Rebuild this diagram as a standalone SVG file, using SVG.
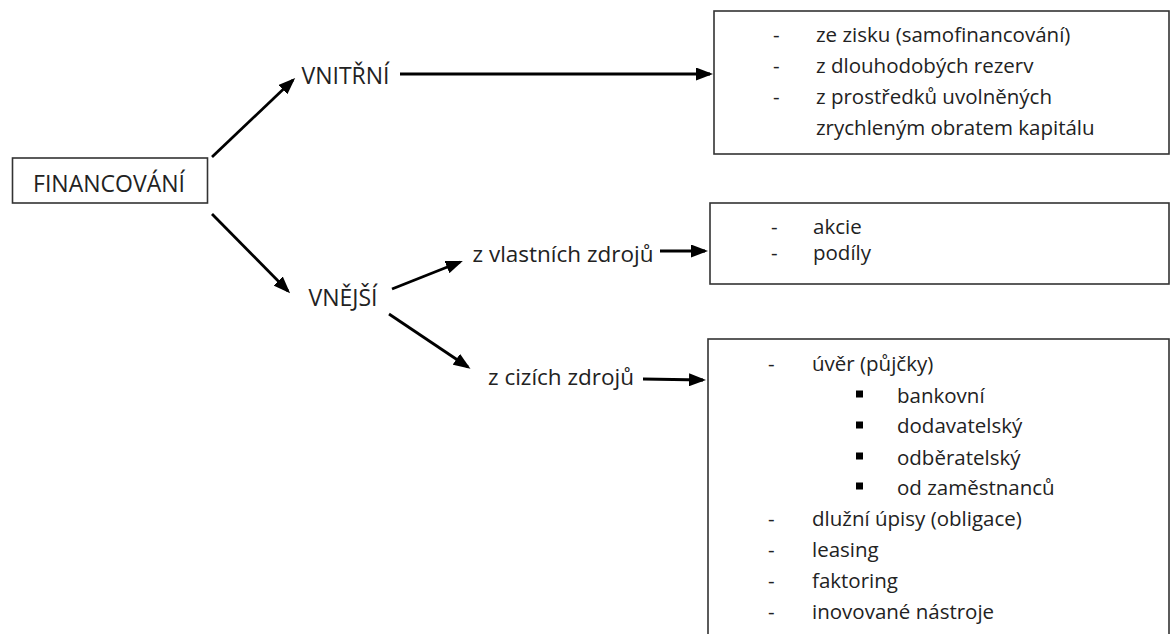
<svg xmlns="http://www.w3.org/2000/svg" width="1170" height="634" viewBox="0 0 1170 634">
<style>
text{font-family:"Open Sans","Liberation Sans",sans-serif;font-size:20.5px;fill:#222}
.lbl{font-size:22.5px}
.cap{font-size:23px}
.box{fill:#fff;stroke:#333;stroke-width:1.6}
.con{stroke:#000;stroke-width:2.8;fill:none;marker-end:url(#ah)}
.mid{text-anchor:middle}
</style>
<defs>
<marker id="ah" markerUnits="userSpaceOnUse" markerWidth="17" markerHeight="13" refX="14" refY="6.5" orient="auto">
<path d="M0,0 L17,6.5 L0,13 z" fill="#000"/>
</marker>
</defs>
<rect width="1170" height="634" fill="#fff"/>
<g id="connectors">
<line class="con" x1="212" y1="157" x2="293" y2="80"/>
<line class="con" x1="212" y1="214" x2="288" y2="291"/>
<line class="con" x1="400" y1="74" x2="710" y2="74"/>
<line class="con" x1="392" y1="289" x2="460" y2="262"/>
<line class="con" x1="389" y1="314" x2="468" y2="367"/>
<line class="con" x1="660" y1="251" x2="705" y2="251"/>
<line class="con" x1="643" y1="379" x2="703" y2="380"/>
</g>
<g id="financovani">
<rect class="box" x="12.5" y="158" width="195" height="45"/>
<text class="mid cap" x="109" y="192">FINANCOVÁNÍ</text>
</g>
<g id="vnitrni">
<text class="mid cap" x="345.5" y="84">VNITŘNÍ</text>
</g>
<g id="vnejsi">
<text class="mid cap" x="343" y="305.5">VNĚJŠÍ</text>
</g>
<g id="vlastni">
<text class="mid lbl" x="563" y="262">z vlastních zdrojů</text>
</g>
<g id="cizi">
<text class="mid lbl" x="561" y="385">z cizích zdrojů</text>
</g>
<g id="box-vnitrni">
<rect class="box" x="714" y="11" width="455" height="143"/>
<text x="773" y="42">-</text><text x="816" y="42">ze zisku (samofinancování)</text>
<text x="773" y="73">-</text><text x="816" y="73">z dlouhodobých rezerv</text>
<text x="773" y="104">-</text><text x="816" y="104">z prostředků uvolněných</text>
<text x="816" y="135">zrychleným obratem kapitálu</text>
</g>
<g id="box-vlastni">
<rect class="box" x="710" y="203" width="459" height="81"/>
<text x="771" y="234">-</text><text x="813" y="234">akcie</text>
<text x="771" y="260">-</text><text x="813" y="260">podíly</text>
</g>
<g id="box-cizi">
<rect class="box" x="708" y="339" width="461" height="310"/>
<text x="768" y="371">-</text><text x="812" y="371">úvěr (půjčky)</text>
<rect x="856" y="390.5" width="7" height="7" fill="#000"/><text x="897" y="403">bankovní</text>
<rect x="856" y="421.5" width="7" height="7" fill="#000"/><text x="897" y="433">dodavatelský</text>
<rect x="856" y="452.5" width="7" height="7" fill="#000"/><text x="897" y="465">odběratelský</text>
<rect x="856" y="482.5" width="7" height="7" fill="#000"/><text x="897" y="495">od zaměstnanců</text>
<text x="768" y="526">-</text><text x="812" y="526">dlužní úpisy (obligace)</text>
<text x="768" y="557">-</text><text x="812" y="557">leasing</text>
<text x="768" y="588">-</text><text x="812" y="588">faktoring</text>
<text x="768" y="619">-</text><text x="812" y="619">inovované nástroje</text>
</g>
</svg>
